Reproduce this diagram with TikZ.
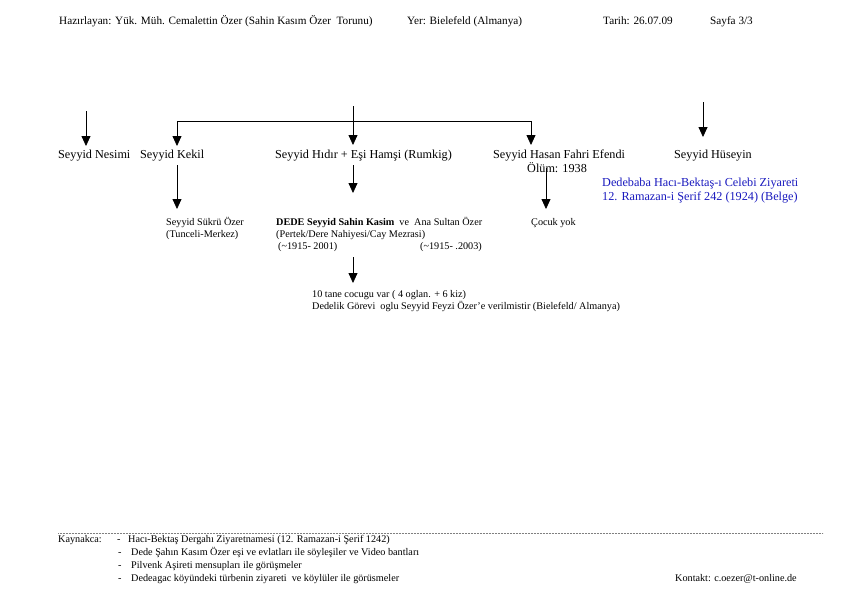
\documentclass[tikz,border=0pt]{standalone}
\usepackage{fontspec}
\setmainfont{Liberation Serif}
\usetikzlibrary{arrows.meta}
\definecolor{inkblue}{RGB}{25,25,190}
\tikzset{
  txt/.style={inner sep=0pt, anchor=base west},
  hdr/.style={txt, font=\fontsize{11.2}{13}\selectfont},
  big/.style={txt, font=\fontsize{12.2}{14}\selectfont},
  sml/.style={txt, font=\fontsize{10.2}{12}\selectfont},
  blu/.style={big, text=inkblue},
  arr/.style={line width=0.8pt, -{Triangle[length=10pt,width=9pt]}},
  ln/.style={line width=0.8pt},
  dotline/.style={line width=0.5pt, gray, dash pattern=on 0.7pt off 0.8pt}
}
\begin{document}
\begin{tikzpicture}[x=1pt,y=-1pt]
\useasboundingbox (0,0) rectangle (843,592);
% header
\node[hdr] (h1) at (59,24) {Hazırlayan: Yük. Müh. Cemalettin Özer (Sahin Kasım Özer\ \ Torunu)};
\node[hdr] (h2) at (407,24) {Yer: Bielefeld (Almanya)};
\node[hdr] (h3) at (603,24) {Tarih: 26.07.09};
\node[hdr] (h4) at (710,24) {Sayfa 3/3};
% row 1
\node[big] (nes) at (58,158) {Seyyid Nesimi};
\node[big] (kek) at (140,158) {Seyyid Kekil};
\node[big] (hid) at (275,158) {Seyyid Hıdır + Eşi Hamşi (Rumkig)};
\node[big] (has) at (493,158) {Seyyid Hasan Fahri Efendi};
\node[big] (olum) at (527,172) {Ölüm: 1938};
\node[big] (hus) at (674,158) {Seyyid Hüseyin};
\node[blu] (b1) at (602,186) {Dedebaba Hacı-Bektaş-ı Celebi Ziyareti};
\node[blu] (b2) at (602,200) {12. Ramazan-i Şerif 242 (1924) (Belge)};
% row 2
\node[sml] (suk1) at (166,225) {Seyyid Sükrü Özer};
\node[sml] (suk2) at (166,237) {(Tunceli-Merkez)};
\node[sml] (ded1) at (276,225) {\textbf{DEDE Seyyid Sahin Kasim}\ \ ve\ \ Ana Sultan Özer};
\node[sml] (ded2) at (276,237) {(Pertek/Dere Nahiyesi/Cay Mezrasi)};
\node[sml] (ded3) at (278,249) {(\textasciitilde1915- 2001)};
\node[sml] (ded4) at (420,249) {(\textasciitilde1915- .2003)};
\node[sml] (coc) at (531,225) {Çocuk yok};
% row 3
\node[sml] (ten1) at (312,297) {10 tane cocugu var ( 4 oglan. + 6 kiz)};
\node[sml] (ten2) at (312,309) {Dedelik Görevi\ \ oglu Seyyid Feyzi Özer’e verilmistir (Bielefeld/ Almanya)};
% connector coordinates
\coordinate (nesA) at (86,111);
\coordinate (nesB) at (86,146);
\coordinate (hidA) at (353,106);
\coordinate (hidB) at (353,145);
\coordinate (barL) at (177,121);
\coordinate (barR) at (531,121);
\coordinate (kekB) at (177,146);
\coordinate (hasB) at (531,145);
\coordinate (husA) at (703,102);
\coordinate (husB) at (703,137);
\coordinate (kekC) at (177,165);
\coordinate (kekD) at (177,209);
\coordinate (hidC) at (353,165);
\coordinate (hidD) at (353,193);
\coordinate (hasC) at (546,168);
\coordinate (hasD) at (546,209);
\coordinate (dedA) at (353,257);
\coordinate (dedB) at (353,283);
% connectors
\draw[arr] (nesA) -- (nesB);
\draw[arr] (hidA) -- (hidB);
\draw[ln] (barL) -- (barR);
\draw[arr] (barL) -- (kekB);
\draw[arr] (barR) -- (hasB);
\draw[arr] (husA) -- (husB);
\draw[arr] (kekC) -- (kekD);
\draw[arr] (hidC) -- (hidD);
\draw[arr] (hasC) -- (hasD);
\draw[arr] (dedA) -- (dedB);
% footer
\coordinate (dotL) at (58,533);
\coordinate (dotR) at (823,533);
\draw[dotline] (dotL) -- (dotR);
\node[sml] (kay) at (58,542) {Kaynakca:};
\node[sml] (d1) at (117,542) {-};
\node[sml] (k1) at (128,542) {Hacı-Bektaş Dergahı Ziyaretnamesi (12. Ramazan-i Şerif 1242)};
\node[sml] (d2) at (118,555) {-};
\node[sml] (k2) at (131,555) {Dede Şahın Kasım Özer eşi ve evlatları ile söyleşiler ve Video bantları};
\node[sml] (d3) at (118,568) {-};
\node[sml] (k3) at (131,568) {Pilvenk Aşireti mensupları ile görüşmeler};
\node[sml] (d4) at (118,581) {-};
\node[sml] (k4) at (131,581) {Dedeagac köyündeki türbenin ziyareti\ \ ve köylüler ile görüsmeler};
\node[sml] (kon) at (675,581) {Kontakt: c.oezer@t-online.de};
\end{tikzpicture}
\end{document}
